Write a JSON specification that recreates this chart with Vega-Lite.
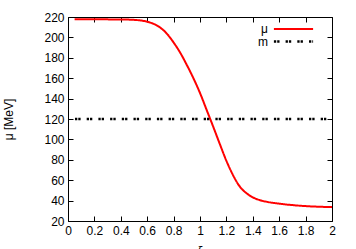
{
  "$schema": "https://vega.github.io/schema/vega-lite/v6.json",
  "width": 264,
  "height": 204,
  "autosize": {"type": "none"},
  "padding": {"left": 68, "top": 17, "right": 24, "bottom": 28},
  "background": "white",
  "config": {
    "font": "Liberation Sans",
    "view": {"stroke": "black", "strokeWidth": 1},
    "axis": {
      "grid": false,
      "domain": false,
      "tickColor": "black",
      "tickSize": -5,
      "labelColor": "black",
      "labelFontSize": 12,
      "titleFontSize": 12,
      "titleFontWeight": "normal",
      "titleColor": "black",
      "labelPadding": 9
    }
  },
  "data": {
    "values": [
      {"series": "μ", "x": 0.05, "v": 217.7},
      {"series": "μ", "x": 0.2, "v": 217.7},
      {"series": "μ", "x": 0.4, "v": 217.6},
      {"series": "μ", "x": 0.5, "v": 217.2},
      {"series": "μ", "x": 0.55, "v": 216.6},
      {"series": "μ", "x": 0.6, "v": 215.4},
      {"series": "μ", "x": 0.65, "v": 213.2},
      {"series": "μ", "x": 0.7, "v": 209.5},
      {"series": "μ", "x": 0.75, "v": 203.5},
      {"series": "μ", "x": 0.8, "v": 195},
      {"series": "μ", "x": 0.85, "v": 185},
      {"series": "μ", "x": 0.9, "v": 173},
      {"series": "μ", "x": 0.95, "v": 160},
      {"series": "μ", "x": 1.0, "v": 145.5},
      {"series": "μ", "x": 1.05, "v": 129},
      {"series": "μ", "x": 1.1, "v": 112.5},
      {"series": "μ", "x": 1.15, "v": 95.5},
      {"series": "μ", "x": 1.2, "v": 79},
      {"series": "μ", "x": 1.25, "v": 65},
      {"series": "μ", "x": 1.3, "v": 54},
      {"series": "μ", "x": 1.35, "v": 47.5},
      {"series": "μ", "x": 1.4, "v": 43.2},
      {"series": "μ", "x": 1.45, "v": 40.6},
      {"series": "μ", "x": 1.5, "v": 39},
      {"series": "μ", "x": 1.6, "v": 37},
      {"series": "μ", "x": 1.7, "v": 35.6},
      {"series": "μ", "x": 1.8, "v": 34.6},
      {"series": "μ", "x": 1.9, "v": 34},
      {"series": "μ", "x": 2.0, "v": 33.6},
      {"series": "m", "x": 0.053, "v": 120},
      {"series": "m", "x": 2.0, "v": 120}
    ]
  },
  "layer": [
    {
      "mark": {"type": "line", "interpolate": "monotone", "strokeCap": "butt", "clip": true},
      "encoding": {
        "x": {
          "field": "x", "type": "quantitative",
          "scale": {"domain": [0, 2], "nice": false, "zero": false},
          "axis": {"values": [0, 0.2, 0.4, 0.6, 0.8, 1, 1.2, 1.4, 1.6, 1.8, 2], "format": ".1~f", "title": "ξ", "titlePadding": 9, "labelFlush": false}
        },
        "y": {
          "field": "v", "type": "quantitative",
          "scale": {"domain": [20, 220], "nice": false, "zero": false},
          "axis": {"values": [20, 40, 60, 80, 100, 120, 140, 160, 180, 200, 220], "title": "μ [MeV]", "titlePadding": 28}
        },
        "color": {
          "field": "series", "type": "nominal",
          "scale": {"domain": ["μ", "m"], "range": ["#ff0000", "#000000"]},
          "legend": {
            "title": null,
            "orient": "none",
            "legendX": 219,
            "legendY": 6,
            "symbolType": "M-4,0H4",
            "symbolSize": 96,
            "symbolStrokeWidth": 2,
            "labelFontSize": 12,
            "labelColor": "black",
            "labelAlign": "right",
            "labelOffset": -32,
            "rowPadding": 0
          }
        },
        "strokeDash": {
          "field": "series", "type": "nominal",
          "scale": {"domain": ["μ", "m"], "range": [[1, 0], [2.3, 1, 2.3, 6.1]]},
          "legend": null
        },
        "strokeWidth": {
          "field": "series", "type": "nominal",
          "scale": {"domain": ["μ", "m"], "range": [2, 2.5]},
          "legend": null
        }
      }
    },
    {
      "mark": {"type": "point", "opacity": 0},
      "encoding": {
        "x": {
          "field": "x", "type": "quantitative",
          "scale": {"domain": [0, 2], "nice": false, "zero": false},
          "axis": {"orient": "top", "values": [0, 0.2, 0.4, 0.6, 0.8, 1, 1.2, 1.4, 1.6, 1.8, 2], "labels": false, "title": null}
        },
        "y": {
          "field": "v", "type": "quantitative",
          "scale": {"domain": [20, 220], "nice": false, "zero": false},
          "axis": {"orient": "right", "values": [20, 40, 60, 80, 100, 120, 140, 160, 180, 200, 220], "labels": false, "title": null}
        }
      }
    }
  ],
  "resolve": {"axis": {"x": "independent", "y": "independent"}}
}
